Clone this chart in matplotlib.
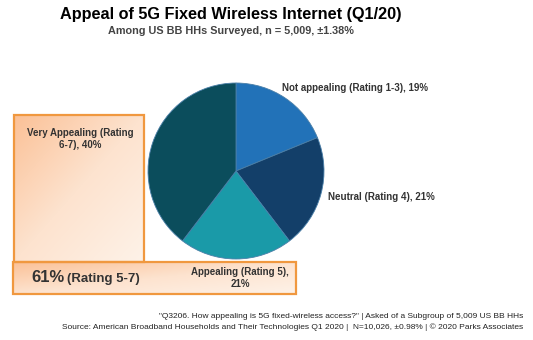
import numpy as np
import matplotlib
matplotlib.use("Agg")
import matplotlib.pyplot as plt
from matplotlib.patches import Rectangle
from matplotlib.colors import LinearSegmentedColormap

plt.rcParams["font.family"] = ["Liberation Sans", "DejaVu Sans"]

# Survey results
categories = ["Not appealing (Rating 1-3)", "Neutral (Rating 4)",
              "Appealing (Rating 5)", "Very Appealing (Rating 6-7)"]
shares = [19, 21, 21, 40]
colors = ["#2272b8", "#133f69", "#1a9aa8", "#0b4d5c"]
top_box = 61

W, H = 533, 340
fig = plt.figure(figsize=(W / 100, H / 100), dpi=100)
ax = fig.add_axes([0, 0, 1, 1])
ax.set_xlim(0, W)
ax.set_ylim(0, H)
ax.set_aspect("equal")
ax.axis("off")

# peach gradient boxes, stronger orange at top-left
peach = LinearSegmentedColormap.from_list("peach", ["#fbc197", "#fde3cf", "#fef2e8"])


def grad_box(x0, y0, x1, y1):
    xx, yy = np.meshgrid(np.linspace(0, 1, 80), np.linspace(0, 1, 80))
    g = (xx + yy) / 2
    ax.imshow(g, cmap=peach, extent=(x0, x1, y0, y1), origin="upper",
              aspect="auto", zorder=1, interpolation="bilinear")
    ax.add_patch(Rectangle((x0, y0), x1 - x0, y1 - y0, fill=False,
                           edgecolor="#f0983f", lw=1.6, zorder=2))


grad_box(14, H - 262, 144, H - 115)
grad_box(13, H - 294, 296, H - 262)

ax.pie(shares, colors=colors, startangle=90, counterclock=False,
       center=(236, H - 171), radius=88, frame=True,
       wedgeprops=dict(linewidth=0.6, edgecolor="#4a7fa8"))
ax.set_xlim(0, W)
ax.set_ylim(0, H)
ax.axis("off")

lab = dict(fontsize=7, fontweight="bold", color="#333333")
ax.text(282, H - 88, f"{categories[0]}, {shares[0]}%", ha="left", va="center", **lab)
ax.text(328, H - 197, f"{categories[1]}, {shares[1]}%", ha="left", va="center", **lab)
ax.text(240, H - 278, "Appealing (Rating 5),\n21%", ha="center", va="center",
        linespacing=1.3, **lab)
ax.text(80, H - 139, "Very Appealing (Rating\n6-7), 40%", ha="center", va="center",
        linespacing=1.3, **lab)

ax.text(31, H - 278, f"{top_box}%", fontsize=12, fontweight="bold",
        color="#333333", ha="left", va="center")
ax.text(67, H - 279, "(Rating 5-7)", fontsize=9.5, fontweight="bold",
        color="#333333", ha="left", va="center")

ax.text(231, H - 15, "Appeal of 5G Fixed Wireless Internet (Q1/20)",
        fontsize=11.7, fontweight="bold", ha="center", va="center")
ax.text(231, H - 31, "Among US BB HHs Surveyed, n = 5,009, \u00b11.38%",
        fontsize=7.8, fontweight="bold", color="#444444", ha="center", va="center")

ax.text(523, H - 316,
        "\"Q3206. How appealing is 5G fixed-wireless access?\" | Asked of a Subgroup of 5,009 US BB HHs",
        fontsize=6.0, ha="right", va="center", color="#222222")
ax.text(523, H - 327,
        "Source: American Broadband Households and Their Technologies Q1 2020 |  N=10,026, \u00b10.98% | \u00a9 2020 Parks Associates",
        fontsize=6.0, ha="right", va="center", color="#222222")

fig.savefig("out.png", dpi=100)
